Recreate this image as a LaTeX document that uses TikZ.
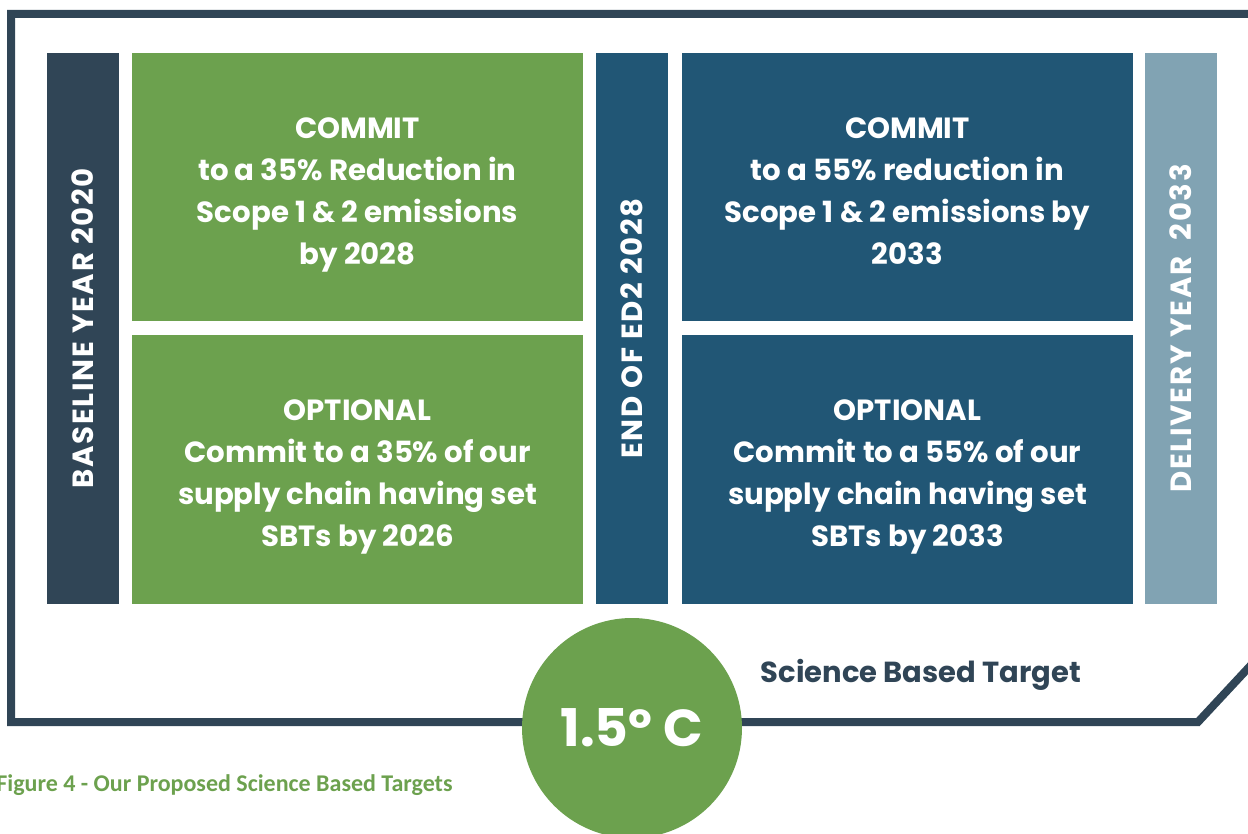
\documentclass[tikz,border=0pt]{standalone}
\usepackage{fontspec}
\setmainfont{Poppins}
\newfontfamily\captionfont{Carlito}
\newfontfamily\barfont[LetterSpace=6]{Poppins}
\definecolor{sbtnavy}{HTML}{304556}
\definecolor{sbtgreen}{HTML}{6CA14E}
\definecolor{sbtblue}{HTML}{215675}
\definecolor{sbtgrey}{HTML}{81A3B3}
\begin{document}
\begin{tikzpicture}[x=0.5pt,y=-0.5pt,
  panel/.style={rectangle,inner sep=0pt,minimum width=225.5pt,minimum height=134pt},
  paneltext/.style={anchor=north,inner sep=0pt,text=white,align=center,
    font=\bfseries\fontsize{14.6}{21}\selectfont},
  bar/.style={rectangle,inner sep=0pt,rotate=90,minimum width=275.5pt,minimum height=36pt,
    text=white,font=\barfont\bfseries\fontsize{14.6}{21}\selectfont}]
\useasboundingbox (0,0) rectangle (1248,834);
% frame
\draw[sbtnavy,line width=4pt] (11,14) -- (1252,14) -- (1252,664) -- (1198,722) -- (11,722) -- cycle;
% year bars
\node[bar,fill=sbtnavy] (base) at (83,328.5) {BASELINE YEAR 2020};
\node[bar,fill=sbtblue] (ed2) at (631.5,328.5) {END OF ED2 2028};
\node[bar,fill=sbtgrey] (deliv) at (1180.5,328.5) {DELIVERY YEAR\ \ 2033};
% targets
\node[panel,fill=sbtgreen] (commitA) at (357.5,187) {};
\node[panel,fill=sbtgreen] (optA) at (357.5,469.5) {};
\node[panel,fill=sbtblue] (commitB) at (907.5,187) {};
\node[panel,fill=sbtblue] (optB) at (907.5,469.5) {};
\node[paneltext] (commitAtxt) at (commitA.center |- 0,117) {COMMIT\\to a 35\% Reduction in\\Scope 1 \& 2 emissions\\by 2028};
\node[paneltext] (optAtxt) at (optA.center |- 0,399) {OPTIONAL\\Commit to a 35\% of our\\supply chain having set\\SBTs by 2026};
\node[paneltext] (commitBtxt) at (commitB.center |- 0,117) {COMMIT\\to a 55\% reduction in\\Scope 1 \& 2 emissions by\\2033};
\node[paneltext] (optBtxt) at (optB.center |- 0,399) {OPTIONAL\\Commit to a 55\% of our\\supply chain having set\\SBTs by 2033};
% temperature
\node[circle,fill=sbtgreen,minimum size=110pt,inner sep=0pt,text=white,
  font=\bfseries\fontsize{26}{30}\selectfont] (temp) at (632,728) {1.5º C};
\node[text=sbtnavy,font=\bfseries\fontsize{14.5}{17}\selectfont] (sbt) at (921,675) {Science Based Target};
\node[anchor=west,inner sep=0pt,text=sbtgreen,font=\captionfont\bfseries\fontsize{12}{15}\selectfont]
  (caption) at (-4,785) {Figure 4 - Our Proposed Science Based Targets};
\end{tikzpicture}
\end{document}
